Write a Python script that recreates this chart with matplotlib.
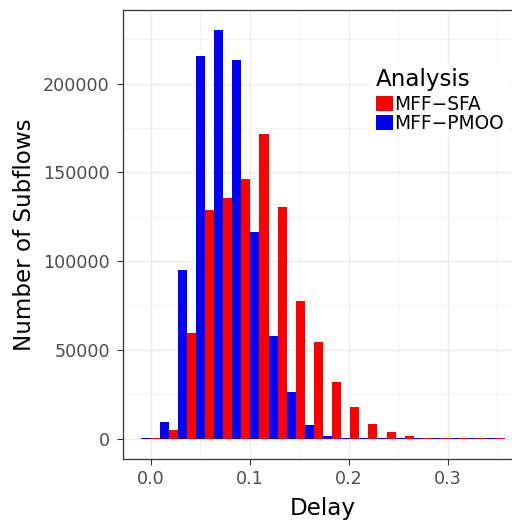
import numpy as np
import matplotlib.pyplot as plt
from matplotlib.patches import Patch

plt.rcParams['font.family'] = ['DejaVu Sans']

# histogram counts per delay bin (bin centres at i*binwidth)
binwidth = 0.01833
series = ["MFF\u2212SFA", "MFF\u2212PMOO"]
colors = ["#FF0000", "#0000FF"]
sfa = [300, 4900, 59650, 128700, 135450, 146150, 171450, 130400, 77500, 54400,
       31900, 17850, 8270, 3770, 1520, 500, 400, 400, 400, 400]
pmoo = [560, 9400, 94900, 215350, 230000, 213100, 116300, 57800, 26300, 7700,
        1500, 500, 400, 400, 400, 400, 400, 400, 400, 400]

xticks = [0.0, 0.1, 0.2, 0.3]
xticklabels = ["0.0", "0.1", "0.2", "0.3"]
yticks = [0, 50000, 100000, 150000, 200000]

centres = np.arange(len(sfa)) * binwidth

fig = plt.figure(figsize=(5.12, 5.21), dpi=100)
ax = fig.add_axes([123.3 / 512, 62 / 521, 399.4 / 512, 449 / 521])

# dodged bars: PMOO on the left half of each bin, SFA on the right half
ax.bar(centres - binwidth / 4, pmoo, width=binwidth / 2, color=colors[1], zorder=2)
ax.bar(centres + binwidth / 4, sfa, width=binwidth / 2, color=colors[0], zorder=2)

lo, hi = centres[0] - binwidth / 2, centres[-1] + binwidth / 2
span = hi - lo
ax.set_xlim(lo - 0.05 * span, hi + 0.05 * span)
ymax = max(max(sfa), max(pmoo))
ax.set_ylim(-0.05 * ymax, 1.05 * ymax)

ax.set_xticks(xticks)
ax.set_xticklabels(xticklabels)
ax.set_xticks([0.05, 0.15, 0.25, 0.35], minor=True)
ax.set_yticks(yticks)
ax.set_yticklabels([str(v) for v in yticks])
ax.set_yticks([25000, 75000, 125000, 175000, 225000], minor=True)

ax.grid(which='major', color='#EBEBEB', linewidth=1.0, zorder=0)
ax.grid(which='minor', color='#F3F3F3', linewidth=0.8, zorder=0)
ax.set_axisbelow(True)
ax.tick_params(which='major', length=4.2, width=0.8, color='#333333',
               labelsize=12.6, labelcolor='#4D4D4D')
ax.tick_params(axis='y', pad=5.5)
ax.tick_params(axis='x', pad=4)
ax.tick_params(which='minor', length=0)
for s in ax.spines.values():
    s.set_color('#333333')
    s.set_linewidth(0.9)

ax.set_xlabel("Delay", fontsize=16.6, labelpad=6)
ax.set_ylabel("Number of Subflows", fontsize=16.6, labelpad=5)

handles = [Patch(facecolor=c, edgecolor='none') for c in colors]
leg = ax.legend(handles, series, title="Analysis", loc='upper left',
                bbox_to_anchor=(371 / 512, 1 - 63 / 521), bbox_transform=fig.transFigure,
                fontsize=13.4, title_fontsize=16.6, frameon=True, facecolor='white',
                edgecolor='none', fancybox=False, framealpha=1, borderpad=0.25,
                labelspacing=0.0, handlelength=0.91, handleheight=0.91,
                handletextpad=0.1, borderaxespad=0, alignment='left')
# a little gap between the legend title and the keys
leg._legend_box.sep = 3

fig.savefig("out.png", dpi=100)
